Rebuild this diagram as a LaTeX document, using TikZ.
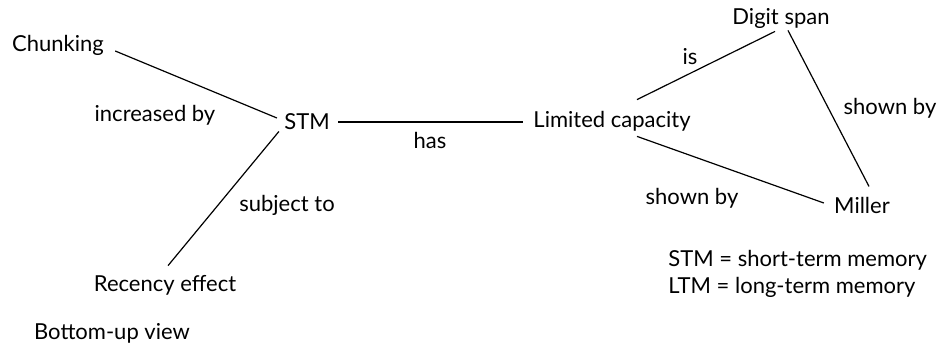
\documentclass[tikz,border=0pt]{standalone}
\usepackage{fontspec}
\setmainfont{Lato}
\begin{document}
\begin{tikzpicture}[x=0.5pt,y=-0.5pt,
  concept/.style={inner sep=0pt,font=\fontsize{11}{13.5}\selectfont},
  rel/.style={inner sep=0pt,font=\fontsize{11}{13.5}\selectfont},
  link/.style={line width=0.6pt}]
\useasboundingbox (0,0) rectangle (949,348);
% concepts
\node[concept] (chunk) at (58,45) {Chunking};
\node[concept] (stm) at (307,122) {STM};
\node[concept] (limcap) at (612,121) {Limited capacity};
\node[concept] (digit) at (781,18) {Digit span};
\node[concept] (miller) at (862,205) {Miller};
\node[concept] (recency) at (165,285) {Recency effect};
% relation labels
\node[rel] (incr) at (155,115) {increased by};
\node[rel] (has) at (430,140) {has};
\node[rel] (subj) at (287,205) {subject to};
\node[rel] (is) at (690,57) {is};
\node[rel] (shownr) at (890,108) {shown by};
\node[rel] (shownl) at (692,198) {shown by};
% key and title
\node[concept,anchor=west,align=left] (key) at (668,273.5) {STM = short-term memory\\LTM = long-term memory};
\node[concept] (title) at (112,333) {Bottom-up view};
% links
\draw[link] ([shift={(11,6)}]chunk.east) -- ([shift={(-7,-4)}]stm.west);
\draw[link] ([shift={(8,0)}]stm.east) -- ([shift={(-10,0)}]stm.east -| limcap.west);
\draw[link] ([shift={(-5,1)}]stm.south west) -- ([shift={(3,-9)}]recency.north);
\draw[link] ([shift={(25,-11)}]limcap.north) -- ([shift={(-6,3)}]digit.south);
\draw[link] ([shift={(7,2)}]digit.south) -- ([shift={(7,-10)}]miller.north);
\draw[link] ([shift={(25,5)}]limcap.south) -- ([shift={(-10,-2)}]miller.west);
\end{tikzpicture}
\end{document}
